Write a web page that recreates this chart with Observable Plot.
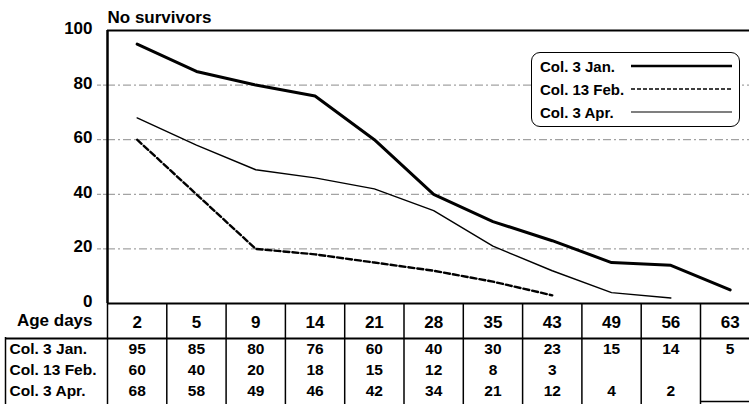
<!DOCTYPE html>
<html>
<head>
<meta charset="utf-8">
<script src="https://cdn.jsdelivr.net/npm/d3@7"></script>
<script src="https://cdn.jsdelivr.net/npm/@observablehq/plot@0.6"></script>
<style>
  html, body { margin: 0; padding: 0; background: #fff; }
  #wrap { position: relative; width: 749px; height: 404px; overflow: hidden; background: #fff;
          font-family: "Liberation Sans", Arial, sans-serif; }
  #wrap svg { display: block; max-width: none; }
  .legend { position: absolute; left: 531px; top: 52px; width: 209px; height: 75px;
            border: 1.5px solid #000; border-radius: 9px; background: #fff; box-sizing: border-box; }
  .lrow { position: absolute; left: 8px; right: 7px; height: 20px; display: flex; align-items: center;
          font-size: 15px; font-weight: bold; color: #000; white-space: nowrap; }
  .lrow span { min-width: 90px; }
  .lrow svg { flex: 1; height: 6px; margin-left: 1px; }
</style>
</head>
<body>
<div id="wrap"></div>
<script>
// ---- data ----
const ages = ["2", "5", "9", "14", "21", "28", "35", "43", "49", "56", "63"];
const seriesNames = ["Col. 3 Jan.", "Col. 13 Feb.", "Col. 3 Apr."];
const jan = [95, 85, 80, 76, 60, 40, 30, 23, 15, 14, 5];
const feb = [60, 40, 20, 18, 15, 12, 8, 3, null, null, null];
const apr = [68, 58, 49, 46, 42, 34, 21, 12, 4, 2, null];
const yTicks = [0, 20, 40, 60, 80, 100];
const gridTicks = [20, 40, 60, 80];
const titleText = "No survivors";
const xLabel = "Age days";

// ---- styles ----
const seriesValues = [jan, feb, apr];
const strokeWidths = [3, 2.4, 1.4];
const legendWidths = [2.6, 1.6, 1.2];
const dashes = [null, "6,3", null];
const font = "Liberation Sans, Arial, sans-serif";
const step = 59.3;

const xScale = {type: "linear", domain: [-0.5, ages.length - 0.5], range: [107, 107 + ages.length * step]};
const boundaries = d3.range(ages.length + 1).map(i => i - 0.5);

const lineData = seriesValues.map(vals => ages.map((a, i) => ({i, v: vals[i] == null ? undefined : vals[i]})));
const cells = [];
seriesValues.forEach((vals, s) => vals.forEach((v, i) => { if (v != null) cells.push({s, i, v}); }));

const chart = Plot.plot({
  width: 749, height: 337,
  marginTop: 30, marginBottom: 34, marginLeft: 107, marginRight: 0,
  style: {fontFamily: font, background: "white", overflow: "hidden"},
  x: {...xScale, axis: null},
  y: {domain: [0, 100], axis: null},
  marks: [
    Plot.ruleY(gridTicks, {stroke: "#8c8c8c", strokeWidth: 1, strokeDasharray: "8,3,2,3"}),
    Plot.axisY(gridTicks, {tickSize: 10, tickFormat: () => "", stroke: "#8c8c8c", strokeDasharray: "4,2", label: null}),
    Plot.axisY(yTicks, {tickSize: 0, tickPadding: 15, dy: -2, fontSize: 17, fontWeight: "bold", fill: "#000", label: null}),
    ...lineData.map((d, s) => Plot.line(d, {x: "i", y: "v", stroke: "#000", strokeWidth: strokeWidths[s],
      strokeDasharray: dashes[s], strokeLinejoin: "miter"})),
    Plot.ruleY([0, 100], {stroke: "#000", strokeWidth: 2}),
    Plot.ruleX([-0.5], {stroke: "#000", strokeWidth: 2.5}),
    Plot.axisX(d3.range(ages.length), {tickSize: 0, tickPadding: 12, tickFormat: i => ages[i],
      fontSize: 17, fontWeight: "bold", fill: "#000", label: null}),
    Plot.axisX(boundaries, {tickSize: 34, tickFormat: () => "", stroke: "#000", strokeWidth: 1.5, label: null}),
    Plot.text([xLabel], {frameAnchor: "bottom-left", dx: -15, dy: 22, textAnchor: "end",
      fontSize: 17, fontWeight: "bold", fill: "#000"}),
    Plot.text([titleText], {frameAnchor: "top-left", dy: -20, textAnchor: "start",
      fontSize: 17, fontWeight: "bold", fill: "#000"})
  ]
});

const table = Plot.plot({
  width: 749, height: 67,
  marginTop: 0, marginBottom: 0, marginLeft: 5, marginRight: 0,
  style: {fontFamily: font, background: "white", overflow: "hidden"},
  x: {...xScale, axis: null},
  y: {domain: [0, 3], range: [1, 64], axis: null},
  marks: [
    Plot.ruleX(boundaries.slice(0, -1), {stroke: "#000", strokeWidth: 1.5}),
    Plot.ruleX([-0.5], {dx: -102, stroke: "#000", strokeWidth: 1.5}),
    Plot.ruleY([0], {stroke: "#000", strokeWidth: 2}),
    Plot.ruleY([seriesNames.length], {x1: ages.length - 1.5, x2: ages.length - 0.5, stroke: "#000", strokeWidth: 1.5}),
    Plot.text(seriesNames, {x: () => -0.5, y: (d, i) => i + 0.5, dx: -98, textAnchor: "start",
      fontSize: 15.5, fontWeight: "bold", fill: "#000"}),
    Plot.text(cells, {x: "i", y: d => d.s + 0.5, text: d => String(d.v),
      fontSize: 15.5, fontWeight: "bold", fill: "#000"})
  ]
});

const wrap = document.getElementById("wrap");
wrap.appendChild(chart);
wrap.appendChild(table);

// legend (inside plot area)
const legend = document.createElement("div");
legend.className = "legend";
const rowTops = [3, 26, 49];
seriesNames.forEach((name, s) => {
  const row = document.createElement("div");
  row.className = "lrow";
  row.style.top = rowTops[s] + "px";
  const span = document.createElement("span");
  span.textContent = name;
  row.appendChild(span);
  const svg = d3.create("svg").attr("preserveAspectRatio", "none");
  svg.append("line").attr("x1", 0).attr("x2", "100%").attr("y1", 3).attr("y2", 3)
    .attr("stroke", "#000").attr("stroke-width", legendWidths[s])
    .attr("stroke-dasharray", dashes[s] ? "4,2" : null);
  row.appendChild(svg.node());
  legend.appendChild(row);
});
wrap.appendChild(legend);
</script>
</body>
</html>
